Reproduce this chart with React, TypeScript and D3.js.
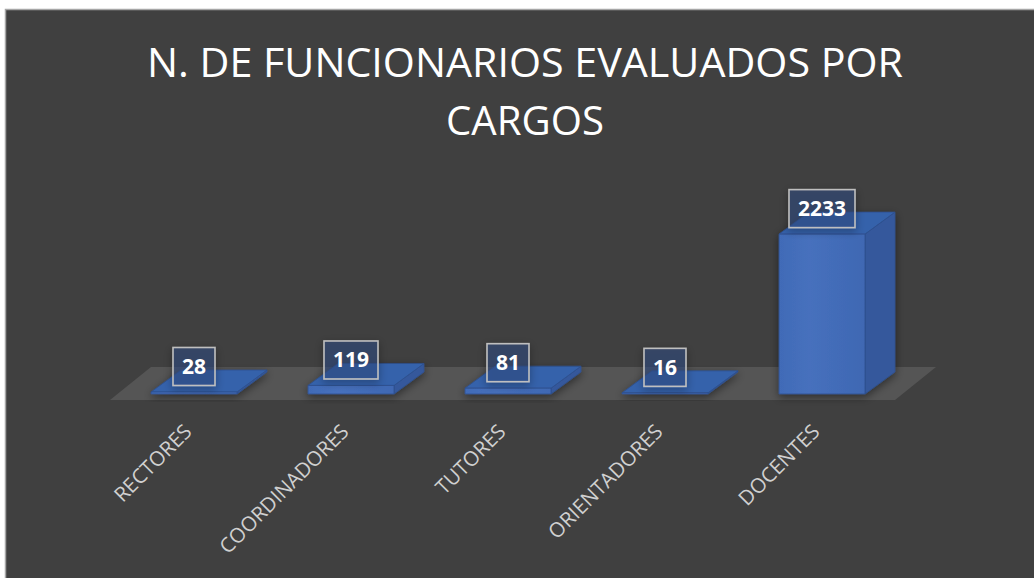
import React from 'react';
import * as d3 from 'd3';

const categories = ['RECTORES', 'COORDINADORES', 'TUTORES', 'ORIENTADORES', 'DOCENTES'];
const values = [28, 119, 81, 16, 2233];
const titleLines = ['N. DE FUNCIONARIOS EVALUADOS POR', 'CARGOS'];

const W = 1034;
const H = 578;
const FONT = '"Open Sans", "Noto Sans", sans-serif';

function App() {
  // floor / category band
  const x = d3.scaleBand().domain(categories).range([110, 895]);
  const y = d3.scaleLinear().domain([0, 2500]).range([394, 215]);

  const barOffset = 41; // front face starts inside band
  const barW = 86;
  const depth = { dx: 30, dy: -22 };
  const floorDepth = { dx: 41, dy: -33 };
  const floorFront = 400;

  const base = y(0);

  const floor = [
    [x.range()[0], floorFront],
    [x.range()[1], floorFront],
    [x.range()[1] + floorDepth.dx, floorFront + floorDepth.dy],
    [x.range()[0] + floorDepth.dx, floorFront + floorDepth.dy],
  ]
    .map((p) => p.join(','))
    .join(' ');

  const bars = categories.map((c, i) => {
    const v = values[i];
    const x0 = (x(c) as number) + barOffset;
    const yTop = y(v);
    const top = [
      [x0, yTop],
      [x0 + barW, yTop],
      [x0 + barW + depth.dx, yTop + depth.dy],
      [x0 + depth.dx, yTop + depth.dy],
    ];
    const side = [
      [x0 + barW, yTop],
      [x0 + barW + depth.dx, yTop + depth.dy],
      [x0 + barW + depth.dx, base + depth.dy],
      [x0 + barW, base],
    ];
    return { c, v, x0, yTop, top, side };
  });

  const pts = (a: number[][]) => a.map((p) => p.join(',')).join(' ');

  return (
    <div style={{ position: 'absolute', left: 0, top: 0 }}>
      <svg width={W} height={H} style={{ display: 'block' }}>
        <defs>
          <filter id="shadow" x="-30%" y="-30%" width="160%" height="160%">
            <feDropShadow dx="0" dy="3" stdDeviation="4" floodColor="#000" floodOpacity="0.45" />
          </filter>
          <linearGradient id="frontGrad" x1="0" x2="1" y1="0" y2="0">
            <stop offset="0%" stopColor="#416bb7" />
            <stop offset="35%" stopColor="#4670bd" />
            <stop offset="100%" stopColor="#3f68b3" />
          </linearGradient>
        </defs>
        <rect x={5.5} y={9.5} width={W} height={H} fill="#404040" stroke="#a6a6a6" strokeWidth={1.5} />

        {titleLines.map((t, i) => (
          <text
            key={t}
            x={525}
            y={77 + i * 58}
            textAnchor="middle"
            fill="#ffffff"
            fontFamily={FONT}
            fontSize={40}
            textLength={i === 0 ? 756 : 158}
            lengthAdjust="spacingAndGlyphs"
          >
            {t}
          </text>
        ))}

        <polygon points={floor} fill="#555555" />

        {bars.map((b) => (
          <g key={b.c} filter="url(#shadow)" stroke="#2d4f8e" strokeWidth={0.8} strokeLinejoin="round">
            <polygon points={pts(b.side)} fill="#35599c" />
            <polygon points={pts(b.top)} fill="#3562ab" />
            <rect x={b.x0} y={b.yTop} width={barW} height={base - b.yTop} fill="url(#frontGrad)" />
          </g>
        ))}

        {bars.map((b) => {
          const label = String(b.v);
          const bw = label.length * 12 + 18;
          const bh = 38;
          const cx = b.x0 + barW / 2;
          const bottom = b.yTop - 6.5;
          return (
            <g key={'l' + b.c}>
              <rect
                x={cx - bw / 2}
                y={bottom - bh}
                width={bw}
                height={bh}
                fill="#34508a"
                fillOpacity={0.5}
                stroke="#bfbfbf"
                strokeWidth={1.6}
                filter="url(#shadow)"
              />
              <text
                x={cx}
                y={bottom - bh / 2 + 7.5}
                textAnchor="middle"
                fill="#ffffff"
                fontFamily={FONT}
                fontWeight={700}
                fontSize={21}
              >
                {label}
              </text>
            </g>
          );
        })}

        {categories.map((c) => {
          const cx = (x(c) as number) + barOffset + barW / 2 - 1;
          return (
            <text
              key={'x' + c}
              transform={`translate(${cx},433) rotate(-45)`}
              textAnchor="end"
              fill="#d0d0d0"
              fontFamily={FONT}
              fontSize={20.5}
            >
              {c}
            </text>
          );
        })}
      </svg>
    </div>
  );
}

export default App;
